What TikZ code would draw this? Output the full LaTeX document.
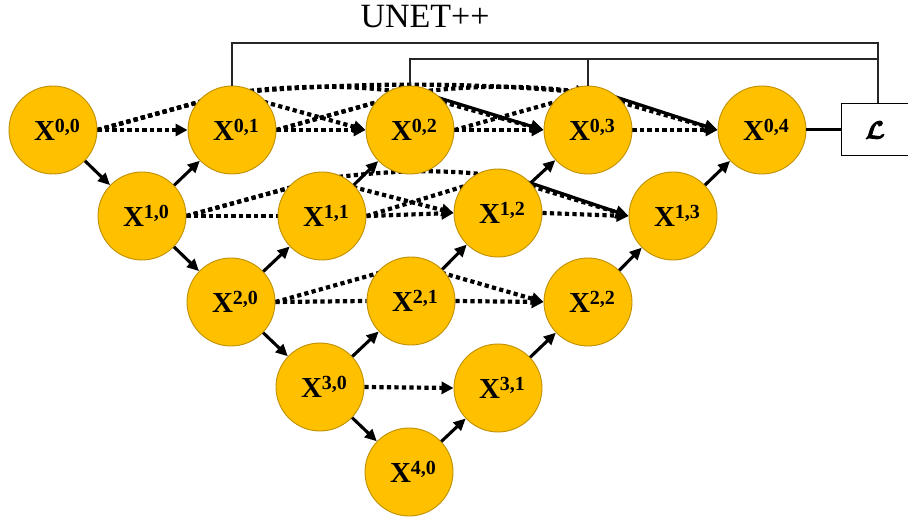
\documentclass[tikz,border=0pt]{standalone}
\usepackage{fontspec}
\setmainfont{Liberation Serif}
\usepackage{bm}
\usetikzlibrary{arrows.meta,backgrounds,calc}
\definecolor{cellfill}{HTML}{FFC000}
\definecolor{celledge}{HTML}{BF9000}
\definecolor{wire}{HTML}{262626}
% node label X^{i,j}
\newcommand\xlbl[2]{\hspace*{8pt}X\raisebox{8.5pt}{\fontsize{20}{20}\selectfont #1,#2}}
% heavier glyphs: fill and stroke the outlines
\newcommand\heavy[1]{\special{pdf:literal direct 2 Tr 0.9 w}#1\special{pdf:literal direct 0 Tr}}

\begin{document}
\begin{tikzpicture}[x=1pt,y=-1pt,
  cell/.style={circle,draw=celledge,line width=0.9pt,fill=cellfill,minimum size=88pt,
    inner sep=0pt,font=\fontsize{29}{29}\selectfont\bfseries},
  samp/.style={line width=3.1pt,-{Triangle[length=12pt,width=11pt]}},
  skipline/.style={line width=4.2pt,dash pattern=on 4.2pt off 3.3pt},
  skiparrow/.style={skipline,-{Triangle[length=12pt,width=12pt]}},
  tail/.style={line width=3.2pt,-{Triangle[length=13pt,width=12pt]}},
  wireline/.style={draw=wire,line width=1.5pt}]
\useasboundingbox (0,0) rectangle (908,521);

% title
\node[anchor=base,font=\fontsize{34}{34}\selectfont] (title) at (425,28) {UNET++};

% nested nodes
\node[cell] (X00) at (53,130)  {\xlbl{0}{0}};
\node[cell] (X01) at (232,130) {\xlbl{0}{1}};
\node[cell] (X02) at (410,130) {\xlbl{0}{2}};
\node[cell] (X03) at (588,130) {\xlbl{0}{3}};
\node[cell] (X04) at (762,130) {\xlbl{0}{4}};
\node[cell] (X10) at (142,216) {\xlbl{1}{0}};
\node[cell] (X11) at (322,216) {\xlbl{1}{1}};
\node[cell] (X12) at (498,213) {\xlbl{1}{2}};
\node[cell] (X13) at (673,216) {\xlbl{1}{3}};
\node[cell] (X20) at (231,302) {\xlbl{2}{0}};
\node[cell] (X21) at (411,301) {\xlbl{2}{1}};
\node[cell] (X22) at (588,302) {\xlbl{2}{2}};
\node[cell] (X30) at (320,387) {\xlbl{3}{0}};
\node[cell] (X31) at (498,388) {\xlbl{3}{1}};
\node[cell] (X40) at (409,472) {\xlbl{4}{0}};

% loss box
\node[draw,line width=1pt,minimum width=68pt,minimum height=52pt,inner sep=0pt,
  font=\fontsize{29}{29}\selectfont] (L) at (875,130) {\heavy{$\bm{\mathcal{L}}$}};

% points hidden behind the circles, where skip paths bend
\coordinate (t01) at ($(X01)+(0,-37)$);
\coordinate (t02) at ($(X02)+(0,-37)$);
\coordinate (t03) at ($(X03)+(0,-37)$);
\coordinate (t11) at ($(X11)+(0,-37)$);
\coordinate (t12) at ($(X12)+(0,-37)$);
\coordinate (t21) at ($(X21)+(0,-37)$);

% dense skip connections, behind the nodes
\begin{scope}[on background layer]
  % level 0
  \draw[skiparrow] (X00.east) -- (X01.west);
  \draw[skiparrow] (X01.east) -- (X02.west);
  \draw[skiparrow] (X02.east) -- (X03.west);
  \draw[skiparrow] (X03.east) -- (X04.west);
  \draw[skiparrow] (X00.east) -- (t01) -- (X02.west);
  \draw[skiparrow] (X01.east) -- (t02) -- (X03.west);
  \draw[skiparrow] (X02.east) -- (t03) -- (X04.west);
  \draw[skiparrow] (X00.east) -- (t01)
    .. controls ($(t01)+(60,-8)$) and ($(t02)+(-60,-8)$) .. (t02);
  \draw[skiparrow] (X01.east) -- (t02)
    .. controls ($(t02)+(60,-8)$) and ($(t03)+(-60,-8)$) .. (t03);
  \draw[skiparrow] (X00.east) -- (t01)
    .. controls ($(t01)+(120,-11)$) and ($(t03)+(-120,-11)$) .. (t03);
  % merged tails of the long skip paths
  \draw[tail] ($(t02)+(0,-4)$) -- (X03.west);
  \draw[tail] ($(t03)+(0,-5)$) -- (X04.west);
  % level 1
  \draw[skipline]  (X10.east) -- (X11.west);
  \draw[skiparrow] (X11.east) -- (X12.west);
  \draw[skiparrow] (X12.east) -- (X13.west);
  \draw[skiparrow] (X10.east) -- (t11) -- (X12.west);
  \draw[skiparrow] (X11.east) -- (t12) -- (X13.west);
  \draw[skipline] (X10.east) -- (t11)
    .. controls ($(t11)+(60,-8)$) and ($(t12)+(-60,-8)$) .. (t12);
  \draw[tail] ($(t12)+(0,-4)$) -- (X13.west);
  % level 2
  \draw[skipline]  (X20.east) -- (X21.west);
  \draw[skiparrow] (X21.east) -- (X22.west);
  \draw[skiparrow] (X20.east) -- (t21) -- (X22.west);
  % level 3
  \draw[skiparrow] (X30.east) -- (X31.west);
\end{scope}

% down-sampling
\draw[samp] (X00) -- (X10);
\draw[samp] (X10) -- (X20);
\draw[samp] (X20) -- (X30);
\draw[samp] (X30) -- (X40);
% up-sampling
\draw[samp] (X10) -- (X01);
\draw[samp] (X20) -- (X11);
\draw[samp] (X11) -- (X02);
\draw[samp] (X30) -- (X21);
\draw[samp] (X21) -- (X12);
\draw[samp] (X12) -- (X03);
\draw[samp] (X40) -- (X31);
\draw[samp] (X31) -- (X22);
\draw[samp] (X22) -- (X13);
\draw[samp] (X13) -- (X04);

% deep supervision wiring to the loss
\coordinate (jo) at (878,43);
\coordinate (ji) at (878,59);
\draw[wireline] (X01.north) |- (jo) -- (jo |- L.north);
\draw[wireline] (X02.north) |- (ji);
\draw[wireline] (X03.north) -- (X03.north |- ji);
\draw[line width=3pt] (X04.east) -- (L.west);
\end{tikzpicture}
\end{document}
